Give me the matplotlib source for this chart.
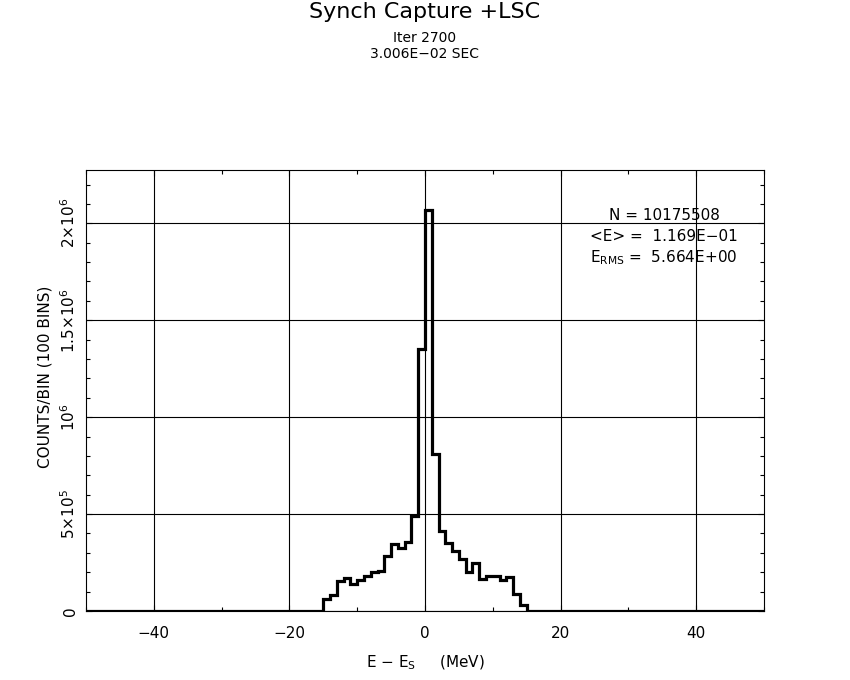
import numpy as np
import matplotlib
matplotlib.use('Agg')
import matplotlib.pyplot as plt
from matplotlib.ticker import MultipleLocator, FixedLocator, FixedFormatter

# histogram: 100 bins of 1 MeV from -50 to 50, non-zero only from -15 to 14
edges = np.arange(-50, 51)
first_bin = -15
nonzero_counts = [61e3, 83e3, 157e3, 171e3, 138e3, 159e3, 180e3, 200e3, 208e3, 285e3,
                  344e3, 327e3, 356e3, 488e3, 1351e3, 2069e3, 809e3, 413e3, 351e3, 311e3,
                  268e3, 202e3, 247e3, 166e3, 182e3, 182e3, 161e3, 173e3, 90e3, 31e3]

y_ticks = [0, 5e5, 1e6, 1.5e6, 2e6]
y_ticklabels = ['0', r'$5{\times}10^5$', r'$10^6$', r'$1.5{\times}10^6$', r'$2{\times}10^6$']
x_ticks = [-40, -20, 0, 20, 40]
x_ticklabels = ['\u221240', '\u221220', '0', '20', '40']

title = 'Synch Capture +LSC'
subtitle = ['Iter 2700', '3.006E\u221202 SEC']
stats = ['N = 10175508', '<E> =  1.169E\u221201', r'E$_{\rm RMS}$ =  5.664E+00']

counts = np.zeros(len(edges) - 1)
start = first_bin - edges[0]
counts[start:start + len(nonzero_counts)] = nonzero_counts

fig = plt.figure(figsize=(8.5, 6.8), dpi=100)
ax = fig.add_axes([86/850, 69/680, 678/850, 441/680])

ax.stairs(counts, edges, color='black', linewidth=2.3)

ax.set_xlim(-50, 50)
ax.set_ylim(0, 2.275e6)

ax.xaxis.set_major_locator(FixedLocator(x_ticks))
ax.xaxis.set_major_formatter(FixedFormatter(x_ticklabels))
ax.xaxis.set_minor_locator(MultipleLocator(10))
ax.yaxis.set_major_locator(FixedLocator(y_ticks))
ax.yaxis.set_major_formatter(FixedFormatter(y_ticklabels))
ax.yaxis.set_minor_locator(MultipleLocator(1e5))

ax.tick_params(which='both', direction='in', top=True, right=True, width=0.8)
ax.tick_params(which='major', length=4)
ax.tick_params(which='minor', length=3)
ax.tick_params(axis='x', pad=11, labelsize=11)
ax.tick_params(axis='y', pad=6, labelsize=11)
for lab in ax.get_yticklabels():
    lab.set_rotation(90)
    lab.set_va('center')

ax.grid(True, which='major', color='black', linewidth=0.8)
for sp in ax.spines.values():
    sp.set_linewidth(0.8)

ax.set_xlabel(r'E $-$ E$_{\rm S}$     (MeV)', fontsize=11, labelpad=9)
ax.set_ylabel('COUNTS/BIN (100 BINS)', fontsize=11)
ax.yaxis.set_label_coords(-0.05, 0.53)

fig.text(0.5, 1 - 12/680, title, ha='center', va='center', fontsize=16)
fig.text(0.5, 1 - 38/680, subtitle[0], ha='center', va='center', fontsize=10)
fig.text(0.5, 1 - 54/680, subtitle[1], ha='center', va='center', fontsize=10)

for i, s in enumerate(stats):
    fig.text(664/850, 1 - (215 + 21.5*i)/680, s, ha='center', va='center', fontsize=11)

fig.savefig('out.png', dpi=100)
